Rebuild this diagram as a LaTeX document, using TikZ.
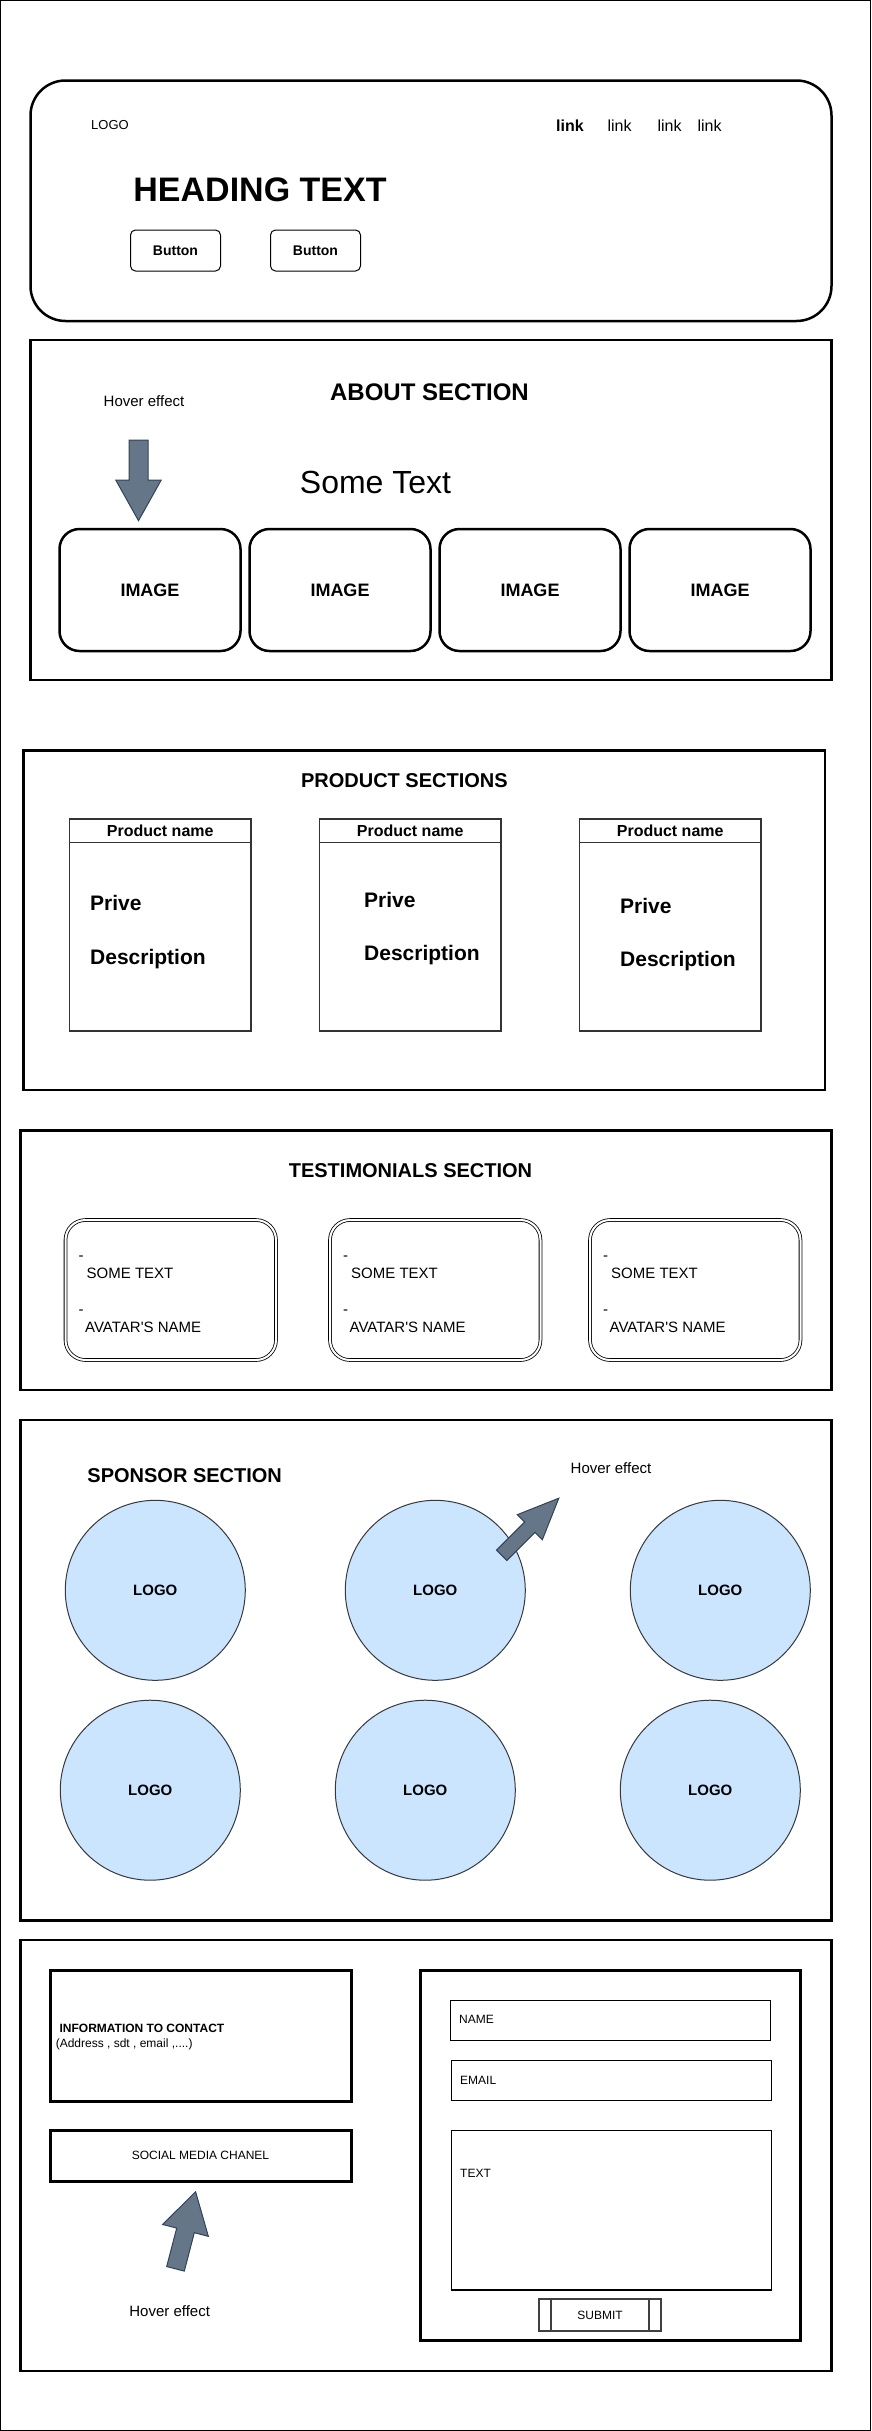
\documentclass[tikz,border=0pt]{standalone}
\usepackage{fontspec}
\setmainfont{Liberation Sans}
\definecolor{hoverfill}{HTML}{647687}
\definecolor{hoverline}{HTML}{314354}
\definecolor{logofill}{HTML}{CCE5FF}
\definecolor{logoline}{HTML}{36393D}
% block arrow: tail, angle, length, head length, head half width, shaft half width
\newcommand{\hoverarrow}[6]{%
	\draw[hover arrow, shift={#1}, rotate=#2] (0,-#6) -- ({#3-#4},-#6) -- ({#3-#4},-#5) -- (#3,0)
		-- ({#3-#4},#5) -- ({#3-#4},#6) -- (0,#6) -- cycle;}
\begin{document}
\begin{tikzpicture}[x=1pt, y=-1pt,
section/.style={rectangle, draw=black, line width=2.5pt, inner sep=0pt},
heavybox/.style={rectangle, draw=black, line width=3pt, inner sep=0pt},
field/.style={rectangle, draw=black, line width=1.2pt, inner sep=0pt, minimum width=320pt},
imagebox/.style={rectangle, rounded corners=20pt, draw=black, line width=2.5pt, minimum width=181pt, minimum height=122pt, inner sep=0pt, font=\fontsize{18}{18}\selectfont\bfseries},
button/.style={rectangle, rounded corners=5pt, draw=black, line width=1pt, minimum width=90pt, minimum height=41pt, inner sep=0pt, font=\fontsize{14}{14}\selectfont\bfseries},
productcard/.style={rectangle, draw=black!80, line width=1.5pt, minimum width=181.6pt, minimum height=212pt, inner sep=0pt},
quotecard/.style={rectangle, rounded corners=20pt, draw=black, double=white, double distance=2pt, line width=0.8pt, minimum width=210.5pt, minimum height=140pt, inner sep=0pt},
sponsor/.style={circle, draw=logoline, fill=logofill, line width=1pt, minimum size=180pt, inner sep=0pt, font=\fontsize{15}{15}\selectfont\bfseries},
submitbox/.style={rectangle, draw=black!75, line width=2pt, minimum width=121.2pt, minimum height=31.7pt},
submitline/.style={draw=black!75, line width=2pt},
txt/.style={inner sep=0pt, text height={0.716*#1pt}, text depth=0pt, font=\fontsize{#1}{#1}\selectfont},
btxt/.style={inner sep=0pt, text height={0.716*#1pt}, text depth=0pt, font=\fontsize{#1}{#1}\selectfont\bfseries},
hover arrow/.style={draw=hoverline, fill=hoverfill, line width=1pt, line join=miter},
]
\useasboundingbox (0,0) rectangle (871,2431);
\draw[line width=1pt] (0.5,0.5) rectangle (870.5,2430.5);

% header
\node[section, rounded corners=35pt, minimum width=801pt, minimum height=240.5pt] (header) at (431,200.75) {};
\node[txt=13] (logo) at (110,125) {LOGO};
\node[btxt=16] (link1) at (570,126) {link};
\node[txt=16] (link2) at (619.5,126) {link};
\node[txt=16] (link3) at (669.5,126) {link};
\node[txt=16] (link4) at (709.5,126) {link};
\node[btxt=34] (heading) at (260,189) {HEADING TEXT};
\node[button] (btn1) at (175.5,250.5) {Button};
\node[button] (btn2) at (315.5,250.5) {Button};

% about
\node[section, minimum width=801pt, minimum height=340pt] (about) at (431,510) {};
\node[btxt=24] (abouttitle) at (429.5,391.7) {ABOUT SECTION};
\node[txt=15] (hover1) at (144,401) {Hover effect};
\hoverarrow{(138.5,440)}{-90}{80.7}{40.7}{22.75}{9.5}
\node[txt=32] (sometext) at (375.5,481.7) {Some Text};
\foreach \x [count=\i] in {150,340,530,720}
	\node[imagebox] (img\i) at (\x,590) {IMAGE};

% products
\node[section, minimum width=801.7pt, minimum height=339.6pt] (products) at (424.15,920.2) {};
\node[btxt=20] (producttitle) at (404.4,780.7) {PRODUCT SECTIONS};
\foreach \x/\px/\py [count=\i] in {160.2/90/903.3, 410.2/364/900, 670.2/620/905.7} {
	\node[productcard] (card\i) at (\x,925) {};
	\draw[draw=black!80, line width=1.5pt] ([yshift=-24.3pt]card\i.north west) -- ([yshift=-24.3pt]card\i.north east);
	\node[btxt=16] (pname\i) at (\x,831) {Product name};
	\node[btxt=21, anchor=west] (price\i) at (\px,\py) {Prive};
	\node[btxt=21, anchor=west] (desc\i) at (\px,\py+53.4) {Description};
}

% testimonials
\node[section, minimum width=811pt, minimum height=259.5pt] (testimonials) at (426,1260.25) {};
\node[btxt=20] (testtitle) at (410.5,1170.7) {TESTIMONIALS SECTION};
\foreach \x [count=\i] in {170.75,435.25,695.25} {
	\node[quotecard] (quote\i) at (\x,1290) {};
	\node[txt=15, anchor=west] (dasha\i) at (\x-92.25,1255) {-};
	\node[txt=15, anchor=west] (quotetext\i) at (\x-84.25,1272.7) {SOME TEXT};
	\node[txt=15, anchor=west] (dashb\i) at (\x-92.25,1309) {-};
	\node[txt=15, anchor=west] (avatar\i) at (\x-85.75,1326.7) {AVATAR\textquotesingle S NAME};
}

% sponsors
\node[section, minimum width=811pt, minimum height=500.5pt] (sponsors) at (426,1670.25) {};
\node[btxt=20] (sponsortitle) at (184.7,1475) {SPONSOR SECTION};
\node[txt=15] (hover2) at (611,1467.7) {Hover effect};
\foreach \x/\y [count=\i] in {155.3/1590.3, 435.3/1590.3, 720.3/1590.3, 150.3/1790.2, 425.3/1790.2, 710.3/1790.2}
	\node[sponsor] (sponsor\i) at (\x,\y) {LOGO};
\hoverarrow{(501.7,1555.3)}{45}{80.8}{41}{17.7}{7.3}

% contact
\node[section, minimum width=811pt, minimum height=431pt] (contact) at (426,2155.5) {};
\node[heavybox, minimum width=301pt, minimum height=131pt] (info) at (200.5,2035.5) {};
\node[btxt=12, anchor=west] (infotitle) at (59.4,2027.7) {INFORMATION TO CONTACT};
\node[txt=12, anchor=west] (infodetail) at (55.6,2043.3) {(Address , sdt , email ,....)};
\node[heavybox, txt=12, minimum width=301pt, minimum height=51pt] (social) at (200.5,2155.5) {SOCIAL MEDIA CHANEL};
\hoverarrow{(175.5,2268.8)}{75.4}{79.7}{40}{23.6}{9.1}
\node[txt=15] (hover3) at (169.7,2310.7) {Hover effect};
\node[heavybox, minimum width=380pt, minimum height=370.7pt] (form) at (610.5,2155.35) {};
\node[field, minimum height=40pt] (namefield) at (610.5,2020.3) {};
\node[txt=12, anchor=west] (namelabel) at (459,2019.3) {NAME};
\node[field, minimum height=40pt] (emailfield) at (611.7,2080.3) {};
\node[txt=12, anchor=west] (emaillabel) at (460,2080) {EMAIL};
\node[field, minimum height=159.7pt] (textfield) at (611.7,2210.15) {};
\node[txt=12, anchor=west] (textlabel) at (460,2173.3) {TEXT};
\node[submitbox, txt=12] (submitbtn) at (600,2315.15) {SUBMIT};
\draw[submitline] ([xshift=13pt]submitbtn.north west) -- ([xshift=13pt]submitbtn.south west);
\draw[submitline] ([xshift=-12.5pt]submitbtn.north east) -- ([xshift=-12.5pt]submitbtn.south east);
\end{tikzpicture}
\end{document}
